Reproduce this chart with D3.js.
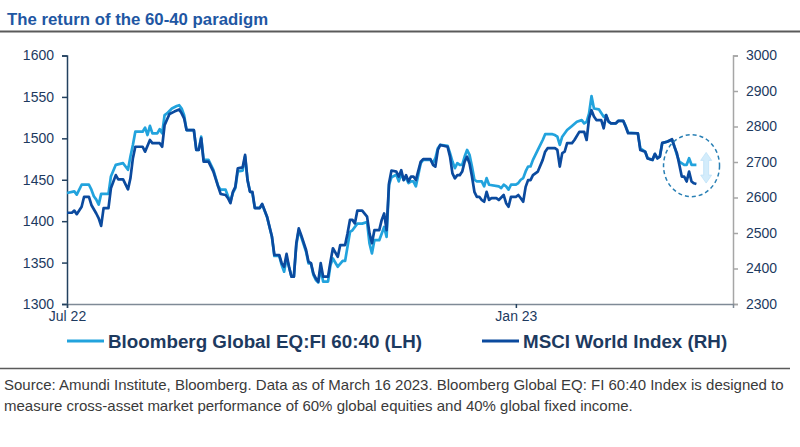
<!DOCTYPE html>
<html>
<head>
<meta charset="utf-8">
<script src="https://cdn.jsdelivr.net/npm/d3@7/dist/d3.min.js"></script>
<style>
  html, body { margin: 0; padding: 0; background: #fff; }
  svg { display: block; font-family: "Liberation Sans", Arial, sans-serif; }
</style>
</head>
<body>
<svg id="chart" width="800" height="447"></svg>
<script>
const titleText = "The return of the 60-40 paradigm";
const seriesNames = ["Bloomberg Global EQ:FI 60:40 (LH)", "MSCI World Index (RH)"];
const footnoteLines = [
  "Source: Amundi Institute, Bloomberg. Data as of March 16 2023. Bloomberg Global EQ: FI 60:40 Index is designed to",
  "measure cross-asset market performance of 60% global equities and 40% global fixed income."
];
const leftTicks = [1300, 1350, 1400, 1450, 1500, 1550, 1600];
const rightTicks = [2300, 2400, 2500, 2600, 2700, 2800, 2900, 3000];
const xTickDates = ["2022-07-01", "2023-01-01"];
const xTickLabels = ["Jul 22", "Jan 23"];

const fiDates = ["2022-07-01","2022-07-04","2022-07-05","2022-07-07","2022-07-10","2022-07-11","2022-07-12","2022-07-13","2022-07-14","2022-07-15","2022-07-18","2022-07-19","2022-07-21","2022-07-24","2022-07-26","2022-07-27","2022-07-28","2022-07-29","2022-08-01","2022-08-02","2022-08-03","2022-08-04","2022-08-05","2022-08-07","2022-08-08","2022-08-09","2022-08-10","2022-08-11","2022-08-13","2022-08-15","2022-08-16","2022-08-17","2022-08-18","2022-08-19","2022-08-22","2022-08-23","2022-08-24","2022-08-25","2022-08-26","2022-08-28","2022-08-30","2022-09-01","2022-09-02","2022-09-04","2022-09-05","2022-09-06","2022-09-07","2022-09-08","2022-09-09","2022-09-11","2022-09-12","2022-09-13","2022-09-14","2022-09-15","2022-09-16","2022-09-18","2022-09-19","2022-09-21","2022-09-22","2022-09-23","2022-09-24","2022-09-26","2022-09-27","2022-09-28","2022-09-29","2022-09-30","2022-10-01","2022-10-02","2022-10-03","2022-10-04","2022-10-05","2022-10-07","2022-10-08","2022-10-09","2022-10-10","2022-10-11","2022-10-12","2022-10-13","2022-10-14","2022-10-16","2022-10-17","2022-10-18","2022-10-20","2022-10-22","2022-10-23","2022-10-25","2022-10-26","2022-10-28","2022-10-30","2022-11-01","2022-11-02","2022-11-03","2022-11-04","2022-11-06","2022-11-08","2022-11-09","2022-11-10","2022-11-11","2022-11-13","2022-11-14","2022-11-15","2022-11-16","2022-11-17","2022-11-18","2022-11-19","2022-11-20","2022-11-21","2022-11-23","2022-11-24","2022-11-27","2022-11-28","2022-11-29","2022-11-30","2022-12-01","2022-12-04","2022-12-05","2022-12-06","2022-12-07","2022-12-08","2022-12-09","2022-12-10","2022-12-11","2022-12-12","2022-12-13","2022-12-14","2022-12-15","2022-12-16","2022-12-18","2022-12-19","2022-12-20","2022-12-21","2022-12-25","2022-12-26","2022-12-27","2022-12-28","2022-12-29","2022-12-30","2023-01-01","2023-01-02","2023-01-03","2023-01-04","2023-01-05","2023-01-06","2023-01-07","2023-01-08","2023-01-09","2023-01-10","2023-01-12","2023-01-13","2023-01-16","2023-01-17","2023-01-18","2023-01-19","2023-01-20","2023-01-22","2023-01-24","2023-01-26","2023-01-28","2023-01-29","2023-01-30","2023-01-31","2023-02-01","2023-02-02","2023-02-04","2023-02-06","2023-02-07","2023-02-08","2023-02-09","2023-02-11","2023-02-12","2023-02-14","2023-02-15","2023-02-16","2023-02-20","2023-02-21","2023-02-23","2023-02-24","2023-02-26","2023-02-27","2023-02-28","2023-03-01","2023-03-02","2023-03-04","2023-03-06","2023-03-07","2023-03-08","2023-03-09","2023-03-11","2023-03-12","2023-03-13","2023-03-14","2023-03-16"];
const fiValues = [1434,1436,1432,1444,1444,1438,1430,1426,1420,1433,1433,1454,1468,1470,1462,1478,1492,1508,1508,1513,1504,1515,1506,1506,1511,1506,1528,1530,1536,1539,1540,1536,1528,1510,1510,1486,1486,1502,1474,1474,1462,1442,1438,1438,1430,1424,1434,1440,1460,1461,1478,1450,1436,1434,1416,1416,1420,1405,1393,1381,1358,1358,1347,1339,1355,1345,1333,1333,1371,1389,1381,1363,1349,1349,1335,1329,1326,1343,1327,1327,1347,1355,1345,1352,1352,1387,1389,1397,1397,1399,1373,1361,1377,1377,1393,1381,1444,1453,1456,1448,1458,1450,1452,1446,1448,1448,1442,1470,1474,1474,1470,1476,1488,1492,1491,1482,1472,1464,1470,1468,1468,1478,1486,1480,1466,1450,1448,1448,1442,1452,1444,1442,1440,1444,1442,1438,1444,1444,1446,1450,1452,1460,1466,1466,1474,1480,1486,1498,1505,1505,1504,1502,1492,1502,1510,1515,1520,1522,1518,1520,1530,1551,1536,1535,1526,1528,1520,1518,1518,1521,1521,1515,1507,1506,1488,1484,1476,1474,1481,1476,1478,1494,1496,1498,1490,1480,1472,1468,1468,1476,1468,1468];

const msciDates = ["2022-07-01","2022-07-03","2022-07-04","2022-07-05","2022-07-07","2022-07-08","2022-07-10","2022-07-11","2022-07-13","2022-07-14","2022-07-15","2022-07-16","2022-07-18","2022-07-19","2022-07-21","2022-07-22","2022-07-24","2022-07-26","2022-07-27","2022-07-28","2022-07-29","2022-08-01","2022-08-02","2022-08-04","2022-08-05","2022-08-08","2022-08-09","2022-08-10","2022-08-12","2022-08-14","2022-08-16","2022-08-17","2022-08-18","2022-08-19","2022-08-22","2022-08-23","2022-08-24","2022-08-25","2022-08-26","2022-08-28","2022-08-30","2022-09-01","2022-09-02","2022-09-04","2022-09-05","2022-09-06","2022-09-07","2022-09-08","2022-09-09","2022-09-11","2022-09-12","2022-09-13","2022-09-14","2022-09-15","2022-09-16","2022-09-18","2022-09-19","2022-09-21","2022-09-22","2022-09-23","2022-09-24","2022-09-26","2022-09-27","2022-09-28","2022-09-29","2022-09-30","2022-10-01","2022-10-02","2022-10-03","2022-10-04","2022-10-05","2022-10-07","2022-10-08","2022-10-09","2022-10-10","2022-10-11","2022-10-12","2022-10-13","2022-10-14","2022-10-16","2022-10-17","2022-10-18","2022-10-20","2022-10-21","2022-10-23","2022-10-24","2022-10-25","2022-10-26","2022-10-27","2022-10-28","2022-10-30","2022-11-01","2022-11-02","2022-11-03","2022-11-04","2022-11-06","2022-11-07","2022-11-08","2022-11-09","2022-11-10","2022-11-11","2022-11-13","2022-11-14","2022-11-15","2022-11-16","2022-11-17","2022-11-18","2022-11-19","2022-11-20","2022-11-21","2022-11-23","2022-11-24","2022-11-27","2022-11-28","2022-11-29","2022-11-30","2022-12-01","2022-12-04","2022-12-05","2022-12-06","2022-12-07","2022-12-08","2022-12-09","2022-12-10","2022-12-11","2022-12-12","2022-12-13","2022-12-14","2022-12-15","2022-12-16","2022-12-17","2022-12-18","2022-12-19","2022-12-20","2022-12-21","2022-12-22","2022-12-24","2022-12-25","2022-12-27","2022-12-28","2022-12-29","2022-12-30","2023-01-01","2023-01-02","2023-01-03","2023-01-04","2023-01-05","2023-01-06","2023-01-07","2023-01-08","2023-01-10","2023-01-12","2023-01-13","2023-01-14","2023-01-17","2023-01-18","2023-01-19","2023-01-20","2023-01-21","2023-01-22","2023-01-24","2023-01-25","2023-01-27","2023-01-29","2023-01-30","2023-01-31","2023-02-01","2023-02-02","2023-02-03","2023-02-05","2023-02-06","2023-02-07","2023-02-08","2023-02-09","2023-02-11","2023-02-12","2023-02-14","2023-02-15","2023-02-16","2023-02-20","2023-02-21","2023-02-23","2023-02-24","2023-02-26","2023-02-27","2023-02-28","2023-03-01","2023-03-02","2023-03-04","2023-03-06","2023-03-07","2023-03-08","2023-03-09","2023-03-10","2023-03-11","2023-03-12","2023-03-13","2023-03-14","2023-03-15","2023-03-16"];
const msciValues = [2557,2557,2563,2553,2574,2602,2602,2579,2555,2541,2520,2570,2570,2626,2663,2651,2651,2623,2654,2710,2743,2743,2729,2762,2753,2753,2743,2804,2835,2842,2848,2837,2823,2790,2790,2734,2734,2767,2701,2701,2673,2630,2610,2607,2598,2584,2616,2630,2682,2685,2720,2649,2616,2616,2570,2570,2582,2546,2518,2490,2438,2438,2415,2405,2441,2405,2377,2377,2471,2513,2494,2452,2419,2415,2386,2372,2363,2415,2377,2377,2419,2457,2433,2466,2466,2499,2537,2537,2527,2563,2563,2546,2499,2471,2508,2508,2537,2555,2508,2640,2676,2673,2659,2677,2649,2663,2645,2659,2659,2649,2701,2708,2708,2692,2687,2734,2748,2743,2715,2668,2654,2663,2663,2673,2701,2715,2696,2659,2616,2602,2602,2593,2588,2616,2593,2598,2598,2593,2607,2584,2574,2602,2602,2607,2598,2588,2630,2649,2649,2663,2673,2706,2729,2739,2739,2734,2687,2725,2729,2753,2753,2762,2785,2785,2762,2823,2846,2828,2818,2818,2795,2832,2814,2809,2809,2816,2816,2799,2781,2781,2734,2729,2710,2706,2723,2710,2715,2754,2757,2764,2743,2725,2692,2659,2659,2645,2673,2645,2640,2638];

const colors = { fi: "#22a3dd", msci: "#0b4a9e", text: "#1d3a5f", title: "#1f57a3" };

const parse = d3.timeParse("%Y-%m-%d");
const fi = fiDates.map((d, i) => ({ date: parse(d), value: fiValues[i] }));
const msci = msciDates.map((d, i) => ({ date: parse(d), value: msciValues[i] }));

const svg = d3.select("#chart");
const W = 800;

// Title
svg.append("text").attr("x", 7).attr("y", 24.5)
  .attr("font-size", 16.8).attr("font-weight", "bold").attr("fill", colors.title)
  .text(titleText);
svg.append("line").attr("x1", 0).attr("x2", W).attr("y1", 31.5).attr("y2", 31.5)
  .attr("stroke", "#5a5a5a").attr("stroke-width", 2);

// Scales
const plot = { left: 67, right: 733, top: 55.5, bottom: 304 };
const x = d3.scaleTime().domain([parse("2022-07-01"), parse("2023-03-31")]).range([plot.left, plot.right]);
const yL = d3.scaleLinear().domain([1300, 1600]).range([plot.bottom, plot.top]);
const yR = d3.scaleLinear().domain([2300, 3000]).range([plot.bottom, plot.top]);

// Axes
const gL = svg.append("g").attr("transform", `translate(${plot.left},0)`)
  .call(d3.axisLeft(yL).tickValues(leftTicks).tickSize(5).tickPadding(8).tickFormat(d3.format("d")));
gL.select(".domain").attr("stroke", "#23415f").attr("stroke-width", 1.5);
gL.selectAll(".tick line").attr("stroke", "#23415f").attr("stroke-width", 1.5);
gL.selectAll("text").attr("font-size", 14).attr("fill", colors.text).attr("font-family", "Liberation Sans, Arial, sans-serif");

const gR = svg.append("g").attr("transform", `translate(${plot.right},0)`)
  .call(d3.axisRight(yR).tickValues(rightTicks).tickSize(5).tickPadding(8).tickFormat(d3.format("d")));
gR.select(".domain").attr("stroke", "#a6a6a6").attr("stroke-width", 1.5);
gR.selectAll(".tick line").attr("stroke", "#a6a6a6").attr("stroke-width", 1.5);
gR.selectAll("text").attr("font-size", 14).attr("fill", colors.text).attr("font-family", "Liberation Sans, Arial, sans-serif");

const gX = svg.append("g").attr("transform", `translate(0,${plot.bottom})`)
  .call(d3.axisBottom(x).tickValues(xTickDates.map(parse)).tickSize(4).tickPadding(3)
    .tickFormat((d, i) => xTickLabels[i]));
gX.select(".domain").attr("stroke", "#7f8a96").attr("stroke-width", 1.5);
gX.selectAll(".tick line").attr("stroke", "#23415f").attr("stroke-width", 1.5);
gX.selectAll("text").attr("font-size", 14).attr("fill", colors.text).attr("font-family", "Liberation Sans, Arial, sans-serif");

// Lines
const lineL = d3.line().x(d => x(d.date)).y(d => yL(d.value));
const lineR = d3.line().x(d => x(d.date)).y(d => yR(d.value));
svg.append("path").datum(fi).attr("d", lineL).attr("fill", "none")
  .attr("stroke", colors.fi).attr("stroke-width", 2.7).attr("stroke-linejoin", "round");
svg.append("path").datum(msci).attr("d", lineR).attr("fill", "none")
  .attr("stroke", colors.msci).attr("stroke-width", 2.7).attr("stroke-linejoin", "round");

// Annotation: dashed ellipse and double arrow
const cx = x(parse("2023-03-14")), cy = yL(1467);
svg.append("ellipse").attr("cx", cx).attr("cy", cy).attr("rx", 28).attr("ry", 31)
  .attr("fill", "none").attr("stroke", "#2a80b5").attr("stroke-width", 1.5).attr("stroke-dasharray", "4,3");
const ax = x(parse("2023-03-20")), ay1 = yL(1483), ay2 = yL(1446);
const hw = 5.5, sw = 2.5, hl = 8;
const arrowPath = d3.path();
arrowPath.moveTo(ax, ay1);
arrowPath.lineTo(ax + hw, ay1 + hl);
arrowPath.lineTo(ax + sw, ay1 + hl);
arrowPath.lineTo(ax + sw, ay2 - hl);
arrowPath.lineTo(ax + hw, ay2 - hl);
arrowPath.lineTo(ax, ay2);
arrowPath.lineTo(ax - hw, ay2 - hl);
arrowPath.lineTo(ax - sw, ay2 - hl);
arrowPath.lineTo(ax - sw, ay1 + hl);
arrowPath.lineTo(ax - hw, ay1 + hl);
arrowPath.closePath();
svg.append("path").attr("d", arrowPath.toString()).attr("fill", "#d3ecfb").attr("stroke", "#bfe2f7").attr("stroke-width", 0.8);

// Legend
const legend = [
  { name: seriesNames[0], color: colors.fi, x: 67 },
  { name: seriesNames[1], color: colors.msci, x: 482 }
];
const lg = svg.append("g");
legend.forEach(l => {
  lg.append("line").attr("x1", l.x).attr("x2", l.x + 37).attr("y1", 341).attr("y2", 341)
    .attr("stroke", l.color).attr("stroke-width", 3);
  lg.append("text").attr("x", l.x + 41).attr("y", 348)
    .attr("font-size", 18.8).attr("font-weight", "bold").attr("fill", colors.text)
    .text(l.name);
});

// Footnote
svg.append("line").attr("x1", 0).attr("x2", 790).attr("y1", 368.5).attr("y2", 368.5)
  .attr("stroke", "#5a5a5a").attr("stroke-width", 1.5);
footnoteLines.forEach((t, i) => {
  svg.append("text").attr("x", 4).attr("y", 389.5 + i * 21)
    .attr("font-size", 15).attr("fill", "#3a3a3a").text(t);
});
</script>
</body>
</html>
